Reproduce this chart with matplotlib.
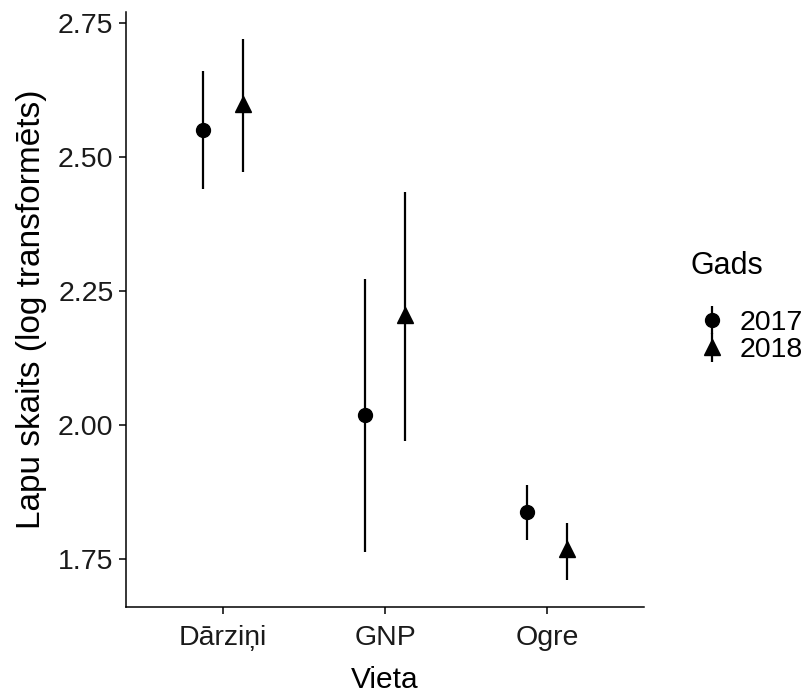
import numpy as np
import matplotlib.pyplot as plt

plt.rcParams['font.family'] = ['Liberation Sans', 'DejaVu Sans']

vieta = ['Dārziņi', 'GNP', 'Ogre']
gadi = ['2017', '2018']

mean_2017 = [2.551, 2.019, 1.837]
low_2017 = [2.441, 1.763, 1.786]
high_2017 = [2.660, 2.273, 1.889]

mean_2018 = [2.599, 2.206, 1.768]
low_2018 = [2.472, 1.971, 1.711]
high_2018 = [2.720, 2.434, 1.817]

yticks = [1.75, 2.00, 2.25, 2.50, 2.75]

fig = plt.figure(figsize=(8.08, 7.0), dpi=100)
ax = fig.add_axes([126/808, 1 - 607/700, (644 - 126)/808, (607 - 12)/700])

x = np.arange(1, len(vieta) + 1)
dodge = 0.125

handles = []
for i, (m, lo, hi, mk, ms) in enumerate([
        (mean_2017, low_2017, high_2017, 'o', 10),
        (mean_2018, low_2018, high_2018, '^', 11)]):
    m = np.array(m)
    err = [m - np.array(lo), np.array(hi) - m]
    xs = x + (-dodge if i == 0 else dodge)
    h = ax.errorbar(xs, m, yerr=err, fmt=mk, color='black', ms=ms,
                    elinewidth=1.6, capsize=0, label=gadi[i])
    handles.append(h)

# ggplot style limits
all_lo = min(low_2017 + low_2018)
all_hi = max(high_2017 + high_2018)
pad = 0.05 * (all_hi - all_lo)
ax.set_ylim(all_lo - pad, all_hi + pad)
ax.set_xlim(0.4, len(vieta) + 0.6)

ax.set_xticks(x)
ax.set_xticklabels(vieta)
ax.set_yticks(yticks)
ax.set_yticklabels(['%.2f' % v for v in yticks])

for s in ['top', 'right']:
    ax.spines[s].set_visible(False)
for s in ['left', 'bottom']:
    ax.spines[s].set_linewidth(1.1)
ax.tick_params(axis='both', length=5, width=1.1, labelsize=20.5,
               colors='black', labelcolor='#1a1a1a')
ax.tick_params(axis='x', pad=8)
ax.tick_params(axis='y', pad=4)

ax.set_xlabel('Vieta', fontsize=21.5, labelpad=11)
ax.set_ylabel('Lapu skaits (log transformēts)', fontsize=24, labelpad=8)

# legend: title drawn separately so the gap matches
fig.text(690/808, 1 - 266/700, 'Gads', fontsize=22, va='center', ha='left')
leg = fig.legend(handles=handles, loc='upper left',
                 bbox_to_anchor=(690/808, 1 - 310/700), frameon=False,
                 fontsize=20.5, handlelength=1.55, handletextpad=0.2,
                 labelspacing=0.05, borderpad=0, borderaxespad=0)

fig.savefig('out.png', dpi=100)
